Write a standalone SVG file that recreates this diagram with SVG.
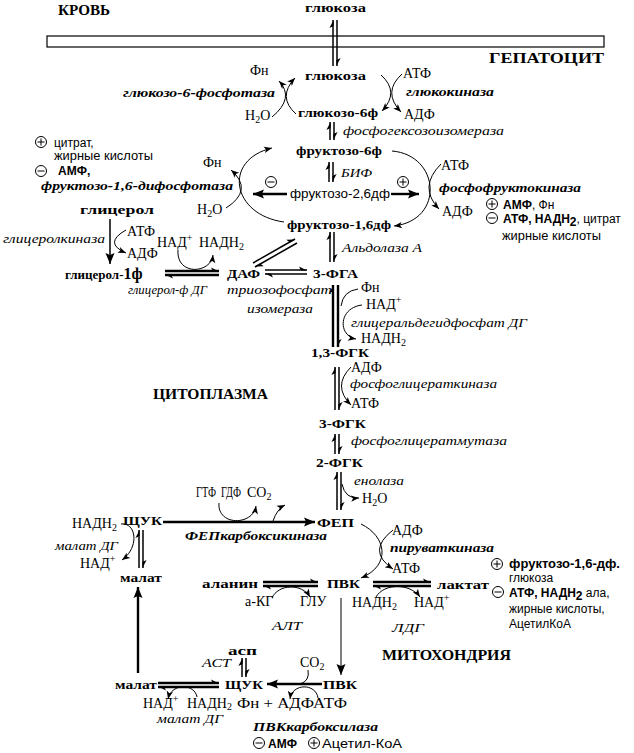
<svg xmlns="http://www.w3.org/2000/svg" width="634" height="753" viewBox="0 0 634 753">
<style>
text{fill:#000}
.t{font:bold 15px "Liberation Serif",serif}
.bs{font:bold 13px "Liberation Serif",serif}
.r{font:14px "Liberation Serif",serif}
.i{font:italic 13px "Liberation Serif",serif}
.bi{font:bold italic 13px "Liberation Serif",serif}
.s{font:12px "Liberation Sans",sans-serif}
.sb{font:bold 12px "Liberation Sans",sans-serif}
.sub{font-size:10px}
.l{fill:none;stroke:#000;stroke-width:1}
.m{fill:none;stroke:#000;stroke-width:1.5}
.k{fill:none;stroke:#000;stroke-width:2.4}
.reg circle,.reg path{fill:none;stroke:#000;stroke-width:1}
</style>
<defs>
<marker id="a" markerUnits="userSpaceOnUse" viewBox="-10 -5 11 10" refX="0" refY="0" markerWidth="11" markerHeight="10" orient="auto"><path d="M0,0 L-8,-3.2 L-6,0 L-8,3.2Z" fill="#000"/></marker>
<marker id="A" markerUnits="userSpaceOnUse" viewBox="-12 -6 13 12" refX="0" refY="0" markerWidth="13" markerHeight="12" orient="auto"><path d="M0,0 L-11,-4.5 L-9,0 L-11,4.5Z" fill="#000"/></marker>
<marker id="h" markerUnits="userSpaceOnUse" viewBox="-10 -5 11 10" refX="0" refY="0" markerWidth="11" markerHeight="10" orient="auto"><path d="M0,0.6 L-8,-3.6 L-6,0.6Z" fill="#000"/></marker>
<g id="plus" class="reg"><circle r="5.5"/><path d="M-3.5,0H3.5M0,-3.5V3.5"/></g>
<g id="minus" class="reg"><circle r="5.5"/><path d="M-3.5,0H3.5"/></g>
</defs>
<rect width="634" height="753" fill="#fff"/>

<g id="labels-titles">
<text class="t" x="58" y="15" textLength="52" lengthAdjust="spacingAndGlyphs">КРОВЬ</text>
<text class="t" x="489" y="63" textLength="115" lengthAdjust="spacingAndGlyphs">ГЕПАТОЦИТ</text>
<text class="t" x="153" y="399" textLength="115" lengthAdjust="spacingAndGlyphs">ЦИТОПЛАЗМА</text>
<text class="t" x="382" y="660" textLength="129" lengthAdjust="spacingAndGlyphs">МИТОХОНДРИЯ</text>
</g>

<g id="membrane"><rect x="47" y="36" width="557" height="11" fill="#fff" stroke="#000" stroke-width="1.2"/></g>

<g id="connectors">
<path class="m" d="M333,66 V20" marker-end="url(#h)"/>
<path class="m" d="M337,20 V66" marker-end="url(#h)"/>
<path class="l" d="M272,117 Q295,98 279,81" marker-end="url(#a)"/>
<path class="l" d="M296,114 Q277,97 295,78" marker-end="url(#a)"/>
<path class="l" d="M381,75 Q400,92 382,111" marker-end="url(#a)"/>
<path class="l" d="M402,74 Q382,92 401,112" marker-end="url(#a)"/>
<path class="m" d="M330,140 V122" marker-end="url(#h)"/>
<path class="m" d="M334,122 V140" marker-end="url(#h)"/>
<path class="m" d="M329,182 V162" marker-end="url(#h)"/>
<path class="m" d="M333,162 V182" marker-end="url(#h)"/>
<path class="l" d="M284,222 C232,215 222,160 272,148" marker-end="url(#a)"/>
<path class="l" d="M392,151 C440,155 445,220 394,226" marker-end="url(#a)"/>
<path class="l" d="M226,208 Q254,190 231,170" marker-end="url(#a)"/>
<path class="l" d="M441,164 Q418,187 439,209" marker-end="url(#a)"/>
<path class="k" d="M287,194 H253" marker-end="url(#A)"/>
<path class="k" d="M391,194 H419" marker-end="url(#A)"/>
<path class="m" d="M330,262 V232" marker-end="url(#h)"/>
<path class="m" d="M334,232 V262" marker-end="url(#h)"/>
<path class="m" d="M253,263 L295,239" marker-end="url(#h)"/>
<path class="m" d="M297,243 L255,267" marker-end="url(#h)"/>
<path class="m" d="M110,219 V264" marker-end="url(#A)"/>
<path class="l" d="M126,230 Q103,243 126,253" marker-end="url(#a)"/>
<path class="l" d="M178,250 C176,276 211,274 213,255" marker-end="url(#a)"/>
<path class="k" d="M165,271 H219" marker-end="url(#h)"/>
<path class="k" d="M219,275 H165" marker-end="url(#h)"/>
<path class="m" d="M265,270 H307" marker-end="url(#h)"/>
<path class="m" d="M307,274 H265" marker-end="url(#h)"/>
<path class="k" d="M333,347 V285" marker-end="url(#h)"/>
<path class="k" d="M338,285 V347" marker-end="url(#h)"/>
<path class="l" d="M358,289 Q343,291 341,306"/>
<path class="l" d="M362,305 C338,308 338,336 356,339" marker-end="url(#a)"/>
<path class="m" d="M335,410 V367" marker-end="url(#h)"/>
<path class="m" d="M339,367 V410" marker-end="url(#h)"/>
<path class="l" d="M351,367 Q332,386 351,405" marker-end="url(#a)"/>
<path class="m" d="M335,454 V434" marker-end="url(#h)"/>
<path class="m" d="M339,434 V454" marker-end="url(#h)"/>
<path class="m" d="M337,510 V472" marker-end="url(#h)"/>
<path class="m" d="M341,472 V510" marker-end="url(#h)"/>
<path class="l" d="M342,484 Q345,499 359,498" marker-end="url(#a)"/>
<path class="k" d="M163,522 H315" marker-end="url(#A)"/>
<path class="l" d="M219,503 C217,526 253,526 256,506" marker-end="url(#a)"/>
<path class="l" d="M273,521 Q277,509 285,505" marker-end="url(#a)"/>
<path class="m" d="M139,568 V530" marker-end="url(#h)"/>
<path class="m" d="M143,530 V568" marker-end="url(#h)"/>
<path class="l" d="M121,524 C136,522 140,547 122,560" marker-end="url(#a)"/>
<path class="k" d="M138,673 V587" marker-end="url(#A)"/>
<path class="l" d="M361,524 C386,536 392,565 361,578" marker-end="url(#a)"/>
<path class="l" d="M393,530 Q366,551 393,569" marker-end="url(#a)"/>
<path class="k" d="M263,582 H318" marker-end="url(#h)"/>
<path class="k" d="M318,586 H263" marker-end="url(#h)"/>
<path class="l" d="M272,598 C278,584 302,583 310,597" marker-end="url(#a)"/>
<path class="k" d="M373,582 H431" marker-end="url(#h)"/>
<path class="k" d="M431,586 H373" marker-end="url(#h)"/>
<path class="l" d="M376,597 C384,583 410,583 420,597" marker-end="url(#a)"/>
<path class="l" d="M341,598 V675" marker-end="url(#A)"/>
<path class="m" d="M242,677 V658" marker-end="url(#h)"/>
<path class="m" d="M246,658 V677" marker-end="url(#h)"/>
<path class="k" d="M158,683 H219" marker-end="url(#h)"/>
<path class="k" d="M219,687 H158" marker-end="url(#h)"/>
<path class="k" d="M322,684 H267" marker-end="url(#A)"/>
<path class="l" d="M308,670 Q310,681 300,684"/>
<path class="l" d="M318,698 C316,683 292,683 290,699" marker-end="url(#a)"/>
<path class="l" d="M197,697 C195,684 172,682 168,699" marker-end="url(#a)"/>
</g>

<g id="n-glucose-blood"><text class="bs" x="305" y="12" textLength="61" lengthAdjust="spacingAndGlyphs">глюкоза</text></g>
<g id="n-glucose"><text class="bs" x="305" y="80" textLength="61" lengthAdjust="spacingAndGlyphs">глюкоза</text></g>
<g id="n-g6pase">
<text class="r" x="250" y="75">Фн</text>
<text class="bi" x="123" y="97" textLength="152" lengthAdjust="spacingAndGlyphs">глюкозо-6-фосфотаза</text>
<text class="r" x="245" y="120">H<tspan class="sub" dy="3">2</tspan><tspan dy="-3">O</tspan></text>
</g>
<g id="n-gk">
<text class="r" x="403" y="78">АТФ</text>
<text class="bi" x="406" y="96" textLength="88" lengthAdjust="spacingAndGlyphs">глюкокиназа</text>
<text class="r" x="404" y="119">АДФ</text>
</g>
<g id="n-g6p"><text class="bs" x="298" y="117" textLength="80" lengthAdjust="spacingAndGlyphs">глюкозо-6ф</text></g>
<g id="n-pgi"><text class="i" x="343" y="135" textLength="161" lengthAdjust="spacingAndGlyphs">фосфогексозоизомераза</text></g>
<g id="n-f6p"><text class="bs" x="296" y="155" textLength="86" lengthAdjust="spacingAndGlyphs">фруктозо-6ф</text></g>
<g id="n-bif"><text class="i" x="341" y="177" textLength="31" lengthAdjust="spacingAndGlyphs">БИФ</text></g>
<g id="n-f26"><text class="s" x="290" y="198" font-size="13" textLength="100" lengthAdjust="spacingAndGlyphs">фруктозо-2,6дф</text>
<use href="#minus" x="271" y="182"/><use href="#plus" x="403" y="182"/></g>
<g id="n-f16"><text class="bs" x="287" y="229" textLength="104" lengthAdjust="spacingAndGlyphs">фруктозо-1,6дф</text></g>
<g id="n-fbpase">
<text class="r" x="203" y="167">Фн</text>
<text class="r" x="197" y="214">H<tspan class="sub" dy="3">2</tspan><tspan dy="-3">O</tspan></text>
<text class="bi" x="41" y="190" textLength="192" lengthAdjust="spacingAndGlyphs">фруктозо-1,6-дифосфотаза</text>
</g>
<g id="n-fbpase-reg">
<use href="#plus" x="41" y="142"/>
<text class="s" x="54" y="147">цитрат,</text>
<text class="s" x="54" y="160" textLength="99" lengthAdjust="spacingAndGlyphs">жирные кислоты</text>
<use href="#minus" x="41" y="171"/>
<text class="sb" x="58" y="175" font-size="11">АМФ,</text>
</g>
<g id="n-pfk">
<text class="r" x="441" y="170">АТФ</text>
<text class="bi" x="439" y="192" textLength="142" lengthAdjust="spacingAndGlyphs">фосфофруктокиназа</text>
<text class="r" x="442" y="216">АДФ</text>
</g>
<g id="n-pfk-reg">
<use href="#plus" x="492" y="204"/>
<text x="503" y="209"><tspan class="sb">АМФ</tspan><tspan class="s">, </tspan><tspan class="s" font-size="9">Фн</tspan></text>
<use href="#minus" x="492" y="218"/>
<text x="503" y="223"><tspan class="sb">АТФ, НАДН</tspan><tspan class="sb" font-size="9" dy="3">2</tspan><tspan class="s" dy="-3">, цитрат</tspan></text>
<text class="s" x="502" y="240" textLength="99" lengthAdjust="spacingAndGlyphs">жирные кислоты</text>
</g>
<g id="n-glycerol"><text class="bs" x="80" y="214" textLength="74" lengthAdjust="spacingAndGlyphs">глицерол</text></g>
<g id="n-gk2">
<text class="i" x="3" y="243" textLength="102" lengthAdjust="spacingAndGlyphs">глицеролкиназа</text>
<text class="r" x="127" y="236">АТФ</text>
<text class="r" x="127" y="258">АДФ</text>
</g>
<g id="n-nad1">
<text class="r" x="157" y="247">НАД<tspan class="sub" dy="-6">+</tspan></text>
<text class="r" x="199" y="247">НАДН<tspan class="sub" dy="3">2</tspan></text>
</g>
<g id="n-g1p"><text class="bs" x="65" y="279">глицерол-<tspan font-size="16">1ф</tspan></text></g>
<g id="n-g3pdh"><text class="i" x="128" y="294" textLength="79" lengthAdjust="spacingAndGlyphs">глицерол-ф ДГ</text></g>
<g id="n-daf"><text class="bs" x="227" y="278" textLength="33" lengthAdjust="spacingAndGlyphs">ДАФ</text></g>
<g id="n-tpi">
<text class="i" x="227" y="294" textLength="105" lengthAdjust="spacingAndGlyphs">триозофосфат</text>
<text class="i" x="247" y="313" textLength="66" lengthAdjust="spacingAndGlyphs">изомераза</text>
</g>
<g id="n-3pga"><text class="bs" x="313" y="278" textLength="45" lengthAdjust="spacingAndGlyphs">3-ФГА</text></g>
<g id="n-aldolase"><text class="i" x="342" y="252" textLength="80" lengthAdjust="spacingAndGlyphs">Альдолаза А</text></g>
<g id="n-gapdh">
<text class="r" x="361" y="292">Фн</text>
<text class="r" x="366" y="309">НАД<tspan class="sub" dy="-6">+</tspan></text>
<text class="i" x="351" y="327" textLength="176" lengthAdjust="spacingAndGlyphs">глицеральдегидфосфат ДГ</text>
<text class="r" x="361" y="343">НАДН<tspan class="sub" dy="3">2</tspan></text>
</g>
<g id="n-13bpg"><text class="bs" x="311" y="357" textLength="58" lengthAdjust="spacingAndGlyphs">1,3-ФГК</text></g>
<g id="n-pgk">
<text class="r" x="351" y="372">АДФ</text>
<text class="i" x="350" y="388" textLength="147" lengthAdjust="spacingAndGlyphs">фосфоглицераткиназа</text>
<text class="r" x="351" y="408">АТФ</text>
</g>
<g id="n-3pg"><text class="bs" x="319" y="428" textLength="47" lengthAdjust="spacingAndGlyphs">3-ФГК</text></g>
<g id="n-pgm"><text class="i" x="351" y="445" textLength="156" lengthAdjust="spacingAndGlyphs">фосфоглицератмутаза</text></g>
<g id="n-2pg"><text class="bs" x="316" y="467" textLength="47" lengthAdjust="spacingAndGlyphs">2-ФГК</text></g>
<g id="n-enolase">
<text class="i" x="354" y="485" textLength="50" lengthAdjust="spacingAndGlyphs">енолаза</text>
<text class="r" x="362" y="503">H<tspan class="sub" dy="3">2</tspan><tspan dy="-3">O</tspan></text>
</g>
<g id="n-pep"><text class="bs" x="317" y="527" textLength="37" lengthAdjust="spacingAndGlyphs">ФЕП</text></g>
<g id="n-pepck">
<text class="r" x="196" y="497" font-size="12" textLength="20" lengthAdjust="spacingAndGlyphs">ГТФ</text>
<text class="r" x="221" y="497" font-size="12" textLength="20" lengthAdjust="spacingAndGlyphs">ГДФ</text>
<text class="r" x="247" y="497" font-size="12">CO<tspan class="sub" dy="3">2</tspan></text>
<text class="bi" x="185" y="540" textLength="142" lengthAdjust="spacingAndGlyphs">ФЕПкарбоксикиназа</text>
</g>
<g id="n-oaa-c"><text class="bs" x="123" y="525" textLength="39" lengthAdjust="spacingAndGlyphs">ЩУК</text></g>
<g id="n-mdh-c">
<text class="r" x="72" y="528">НАДН<tspan class="sub" dy="3">2</tspan></text>
<text class="i" x="55" y="550" textLength="63" lengthAdjust="spacingAndGlyphs">малат ДГ</text>
<text class="r" x="80" y="568">НАД<tspan class="sub" dy="-6">+</tspan></text>
</g>
<g id="n-malate-c"><text class="bs" x="120" y="582" font-size="12" textLength="42" lengthAdjust="spacingAndGlyphs">малат</text></g>
<g id="n-pk">
<text class="r" x="392" y="535">АДФ</text>
<text class="bi" x="390" y="552" textLength="104" lengthAdjust="spacingAndGlyphs">пируваткиназа</text>
<text class="r" x="392" y="573">АТФ</text>
</g>
<g id="n-ala"><text class="bs" x="202" y="588" textLength="56" lengthAdjust="spacingAndGlyphs">аланин</text></g>
<g id="n-pvk"><text class="bs" x="327" y="588" textLength="33" lengthAdjust="spacingAndGlyphs">ПВК</text></g>
<g id="n-lactate"><text class="bs" x="437" y="589" textLength="52" lengthAdjust="spacingAndGlyphs">лактат</text></g>
<g id="n-alt">
<text class="r" x="245" y="606">а-КГ</text>
<text class="r" x="300" y="606">ГЛУ</text>
<text class="i" x="272" y="630" textLength="30" lengthAdjust="spacingAndGlyphs">АЛТ</text>
</g>
<g id="n-ldh">
<text class="r" x="352" y="607">НАДН<tspan class="sub" dy="3">2</tspan></text>
<text class="r" x="414" y="607">НАД<tspan class="sub" dy="-6">+</tspan></text>
<text class="i" x="392" y="632" textLength="32" lengthAdjust="spacingAndGlyphs">ЛДГ</text>
</g>
<g id="n-pk-reg">
<use href="#plus" x="497" y="564"/>
<text class="sb" x="509" y="568" textLength="111" lengthAdjust="spacingAndGlyphs">фруктозо-1,6-дф.</text>
<text class="s" x="509" y="582" font-size="11">глюкоза</text>
<use href="#minus" x="498" y="592"/>
<text x="509" y="597"><tspan class="sb">АТФ, НАДН</tspan><tspan class="sb" font-size="9" dy="3">2</tspan><tspan class="s" dy="-3"> ала,</tspan></text>
<text class="s" x="509" y="613">жирные кислоты,</text>
<text class="s" x="509" y="628">АцетилКоА</text>
</g>
<g id="n-asp"><text class="bs" x="228" y="655" textLength="29" lengthAdjust="spacingAndGlyphs">асп</text>
<text class="i" x="202" y="667" textLength="29" lengthAdjust="spacingAndGlyphs">АСТ</text></g>
<g id="n-oaa-m"><text class="bs" x="225" y="689" textLength="38" lengthAdjust="spacingAndGlyphs">ЩУК</text></g>
<g id="n-malate-m"><text class="bs" x="115" y="689" font-size="12" textLength="42" lengthAdjust="spacingAndGlyphs">малат</text></g>
<g id="n-pvk-m"><text class="bs" x="323" y="689" textLength="34" lengthAdjust="spacingAndGlyphs">ПВК</text>
<text class="r" x="300" y="667">CO<tspan class="sub" dy="3">2</tspan></text></g>
<g id="n-mdh-m">
<text class="r" x="143" y="708">НАД<tspan class="sub" dy="-6">+</tspan></text>
<text class="r" x="187" y="708">НАДН<tspan class="sub" dy="2">2</tspan></text>
<text class="i" x="157" y="723" font-size="12" textLength="66" lengthAdjust="spacingAndGlyphs">малат ДГ</text>
</g>
<g id="n-pc">
<text class="r" x="237" y="708" textLength="110" lengthAdjust="spacingAndGlyphs">Фн + АДФАТФ</text>
<text class="bi" x="253" y="731" textLength="125" lengthAdjust="spacingAndGlyphs">ПВКкарбоксилаза</text>
<use href="#minus" x="259" y="743"/>
<text class="sb" x="268" y="748">АМФ</text>
<use href="#plus" x="314" y="743"/>
<text class="s" x="322" y="748" textLength="80" lengthAdjust="spacingAndGlyphs">Ацетил-КоА</text>
</g>
</svg>
